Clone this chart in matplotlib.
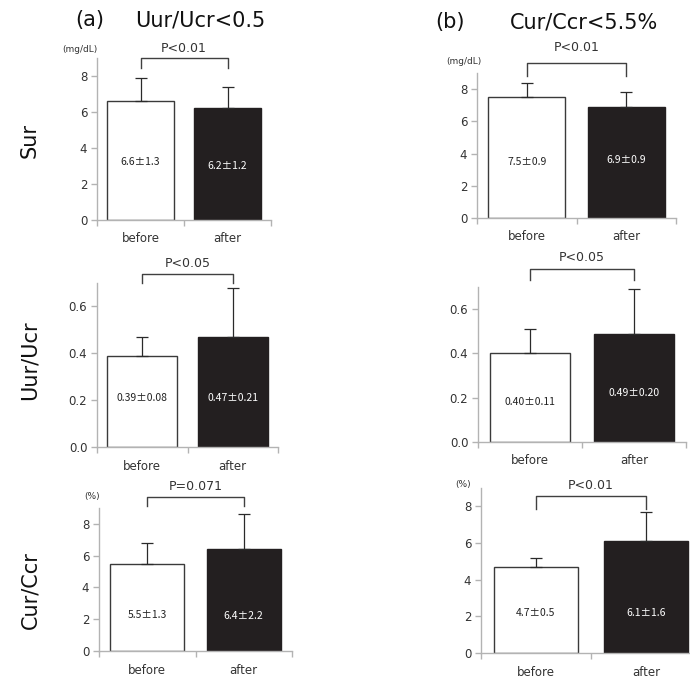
import matplotlib
matplotlib.use("Agg")
import matplotlib.pyplot as plt

# ---------------- data ----------------
categories = ["before", "after"]

sur_a_mean = [6.6, 6.2]
sur_a_sd = [1.3, 1.2]
sur_b_mean = [7.5, 6.9]
sur_b_sd = [0.9, 0.9]

uur_a_mean = [0.39, 0.47]
uur_a_sd = [0.08, 0.21]
uur_b_mean = [0.40, 0.49]
uur_b_sd = [0.11, 0.20]

cur_a_mean = [5.5, 6.4]
cur_a_sd = [1.3, 2.2]
cur_b_mean = [4.7, 6.1]
cur_b_sd = [0.5, 1.6]

sur_ticks = [0, 2, 4, 6, 8]
uur_ticks = [0.0, 0.2, 0.4, 0.6]
cur_ticks = [0, 2, 4, 6, 8]

p_texts = ["P<0.01", "P<0.01", "P<0.05", "P<0.05", "P=0.071", "P<0.01"]
col_titles = [("(a)", "Uur/Ucr<0.5"), ("(b)", "Cur/Ccr<5.5%")]
row_labels = ["Sur", "Uur/Ucr", "Cur/Ccr"]

# ---------------- layout ----------------
W, H = 690, 682
fig = plt.figure(figsize=(W / 100, H / 100), dpi=100)

def px_axes(l, r, t, b):
    return fig.add_axes([l / W, 1 - b / H, (r - l) / W, (b - t) / H])

FONT = "DejaVu Sans"
SPINE = "#b3b3b3"
TXT = "#333333"
EDGE = "#3a3a3a"

panels = [
    dict(box=(97, 271, 58, 220), m=sur_a_mean, s=sur_a_sd, ticks=sur_ticks, ylim=9,
         fmt="{:.1f}", tfmt="{:d}", br=(9.0, 8.44), toff=3, ly=[3.2, 3.0], unit=("(mg/dL)", 80, 50)),
    dict(box=(477, 676, 73, 218), m=sur_b_mean, s=sur_b_sd, ticks=sur_ticks, ylim=9,
         fmt="{:.1f}", tfmt="{:d}", br=(9.63, 8.82), toff=9, ly=[3.5, 3.6], unit=("(mg/dL)", 464, 61)),
    dict(box=(97, 278, 283, 447), m=uur_a_mean, s=uur_a_sd, ticks=uur_ticks, ylim=0.7,
         fmt="{:.2f}", tfmt="{:.1f}", br=(0.74, 0.70), toff=4, ly=[0.21, 0.21], unit=None),
    dict(box=(478, 686, 287, 442), m=uur_b_mean, s=uur_b_sd, ticks=uur_ticks, ylim=0.7,
         fmt="{:.2f}", tfmt="{:.1f}", br=(0.78, 0.73), toff=5, ly=[0.18, 0.22], unit=None),
    dict(box=(99, 292, 508, 651), m=cur_a_mean, s=cur_a_sd, ticks=cur_ticks, ylim=9,
         fmt="{:.1f}", tfmt="{:d}", br=(9.69, 9.13), toff=4, ly=[2.25, 2.2], unit=("(%)", 92, 497)),
    dict(box=(481, 701, 488, 653), m=cur_b_mean, s=cur_b_sd, ticks=cur_ticks, ylim=9,
         fmt="{:.1f}", tfmt="{:d}", br=(8.59, 7.88), toff=4, ly=[2.2, 2.2], unit=("(%)", 463, 485)),
]

x = list(range(len(categories)))
for i, p in enumerate(panels):
    ax = px_axes(*p["box"])
    ax.bar(x, p["m"], width=0.77, color=["white", "#231f20"],
           edgecolor=[EDGE, "#231f20"], linewidth=1.0, zorder=2)
    ax.errorbar(x, p["m"], yerr=[[0, 0], p["s"]], fmt="none", ecolor="#2a2a2a",
                elinewidth=0.9, capsize=4, capthick=0.9, zorder=3)
    ax.set_xlim(-0.5, 1.5)
    ax.set_ylim(0, p["ylim"])
    ax.set_yticks(p["ticks"])
    ax.set_yticklabels([p["tfmt"].format(t if p["tfmt"] != "{:d}" else int(t)) for t in p["ticks"]],
                       fontsize=8.5, color=TXT, family=FONT)
    ax.set_xticks(x)
    ax.set_xticklabels(categories, fontsize=8.5, color=TXT, family=FONT)
    ax.set_xticks([-0.5, 0.5, 1.5], minor=True)
    ax.tick_params(axis="x", which="major", length=0, pad=9)
    ax.tick_params(axis="x", which="minor", length=4, color=SPINE, width=1)
    ax.tick_params(axis="y", length=4, color=SPINE, width=1, pad=3)
    for sp in ["top", "right"]:
        ax.spines[sp].set_visible(False)
    for sp in ["left", "bottom"]:
        ax.spines[sp].set_color(SPINE)
        ax.spines[sp].set_linewidth(1.0)
    ax.patch.set_visible(False)

    # value labels
    for xi, (mv, sv, ly) in enumerate(zip(p["m"], p["s"], p["ly"])):
        ax.text(xi, ly, p["fmt"].format(mv) + "\u00b1" + p["fmt"].format(sv),
                ha="center", va="center", fontsize=7.5,
                family=["Noto Sans CJK JP", "DejaVu Sans"],
                color="white" if xi == 1 else "#222222", zorder=4)

    # significance bracket
    top, arm = p["br"]
    ax.plot([0, 0, 1, 1], [arm, top, top, arm], color="#404040", lw=1.0,
            clip_on=False, zorder=4)
    ax.annotate(p_texts[i], xy=(0.5, top), xytext=(0, p["toff"]),
                textcoords="offset pixels", ha="center", va="bottom",
                fontsize=9, color=TXT, family=FONT, annotation_clip=False)

    if p["unit"] is not None:
        u, ux, uy = p["unit"]
        fig.text(ux / W, 1 - uy / H, u, ha="center", va="center",
                 fontsize=6.5, color=TXT, family=FONT)

# column titles
fig.text(75 / W, 1 - 20 / H, col_titles[0][0], ha="left", va="center",
         fontsize=15, color="#111111", family=FONT)
fig.text(135 / W, 1 - 20 / H, col_titles[0][1], ha="left", va="center",
         fontsize=15, color="#111111", family=FONT)
fig.text(435 / W, 1 - 22 / H, col_titles[1][0], ha="left", va="center",
         fontsize=15, color="#111111", family=FONT)
fig.text(510 / W, 1 - 22 / H, col_titles[1][1], ha="left", va="center",
         fontsize=15, color="#111111", family=FONT)

# row labels
for lab, yc in zip(row_labels, [140, 360, 590]):
    fig.text(30 / W, 1 - yc / H, lab, rotation=90, ha="center", va="center",
             fontsize=15, color="#111111", family=FONT)

fig.savefig("out.png", dpi=100)
